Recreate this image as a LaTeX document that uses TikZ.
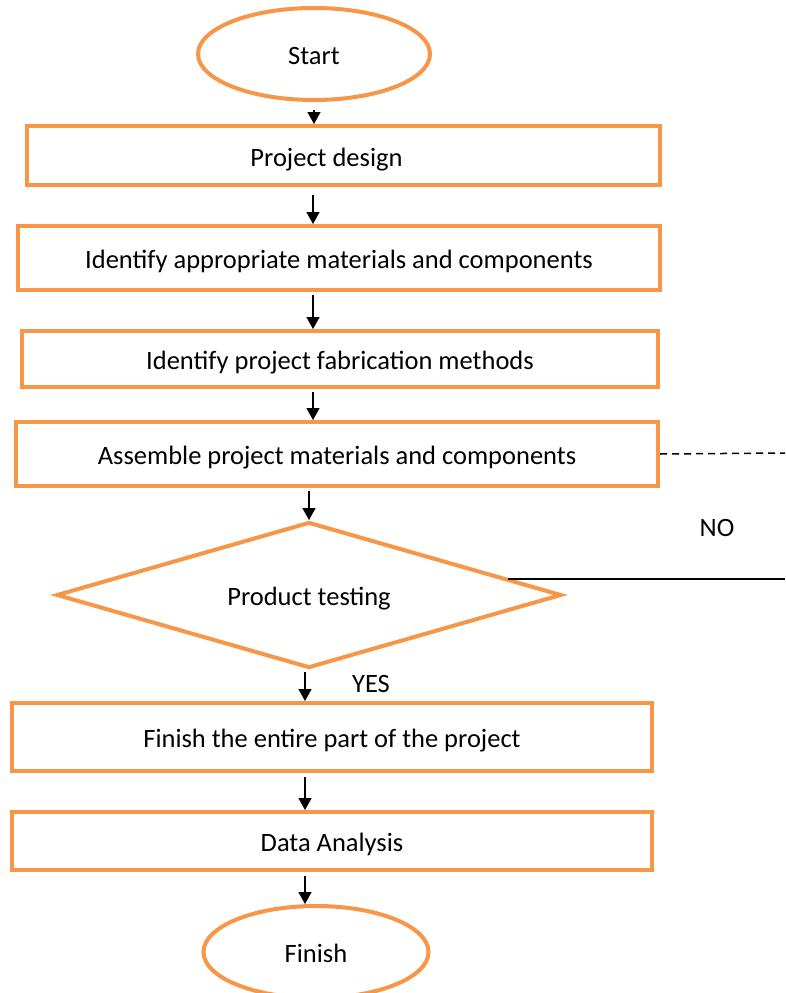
\documentclass[tikz,border=0pt]{standalone}
\usepackage{fontspec}
\setmainfont{Carlito}
\usetikzlibrary{shapes.geometric,arrows.meta}
\definecolor{boxorange}{RGB}{247,150,70}
\tikzset{
  x=1pt, y=-1pt,
  every node/.style={font=\fontsize{26.5}{31}\selectfont},
  textline/.style={text height=23pt, text depth=2pt},
  stepbox/.style={draw=boxorange, line width=4pt, rectangle, inner sep=0pt, textline},
  terminal/.style={draw=boxorange, line width=4pt, ellipse, inner sep=0pt, textline},
  decision/.style={draw=boxorange, line width=4pt, diamond, inner sep=0pt, textline},
  arr/.style={draw=black, line width=1.5pt, -{Triangle[width=13pt,length=12pt]}},
  plainlabel/.style={inner sep=0pt}
}
\begin{document}
\begin{tikzpicture}
\useasboundingbox (0,0) rectangle (785,993);
\fill[white] (0,0) rectangle (785,993);

% terminals
\node[terminal, minimum width=232, minimum height=92] (start) at (314,54) {Start};
\node[terminal, minimum width=225, minimum height=92] (finish) at (316,952) {Finish};

% process steps
\node[stepbox, minimum width=633, minimum height=59] (b1) at (343.5,155.5) {Project design\hspace*{34pt}};
\node[stepbox, minimum width=642, minimum height=64] (b2) at (339,258) {Identify appropriate materials and components};
\node[stepbox, minimum width=636, minimum height=56] (b3) at (340,359) {Identify project fabrication methods};
\node[stepbox, minimum width=642, minimum height=64] (b4) at (337,454) {Assemble project materials and components};
\node[decision, aspect=3.46, minimum width=505, minimum height=146] (test) at (309,595) {Product testing};
\node[stepbox, minimum width=640, minimum height=68] (b5) at (332,737) {Finish the entire part of the project};
\node[stepbox, minimum width=640, minimum height=58] (b6) at (332,841) {Data Analysis};

% labels
\node[plainlabel] (no) at (717,528) {NO};
\node[plainlabel] (yes) at (371,684) {YES};

% arrow columns and free ends at the right margin
\coordinate (colA) at (313,0);
\coordinate (colB) at (305,0);
\coordinate (dashend) at (785,453);
\coordinate (nostart) at (508,579);
\coordinate (noend) at (785,579);

% flow arrows
\draw[arr, shorten <=8pt] (start.south) -- (start.south |- b1.north);
\draw[arr, shorten <=8pt] (colA |- b1.south) -- (colA |- b2.north);
\draw[arr, shorten <=3pt] (colA |- b2.south) -- (colA |- b3.north);
\draw[arr, shorten <=3pt] (colA |- b3.south) -- (colA |- b4.north);
\draw[arr, shorten <=3pt] (test.north |- b4.south) -- (test.north);
\draw[arr, shorten <=2pt] (colB |- test.south) -- (colB |- b5.north);
\draw[arr, shorten <=4pt] (colB |- b5.south) -- (colB |- b6.north);
\draw[arr, shorten <=4pt] (colB |- b6.south) -- (colB |- finish.north);

% return path
\draw[line width=1.5pt, dashed, dash pattern=on 7pt off 5pt] (b4.east) -- (dashend);
\draw[line width=1.5pt] (nostart) -- (noend);
\end{tikzpicture}
\end{document}
